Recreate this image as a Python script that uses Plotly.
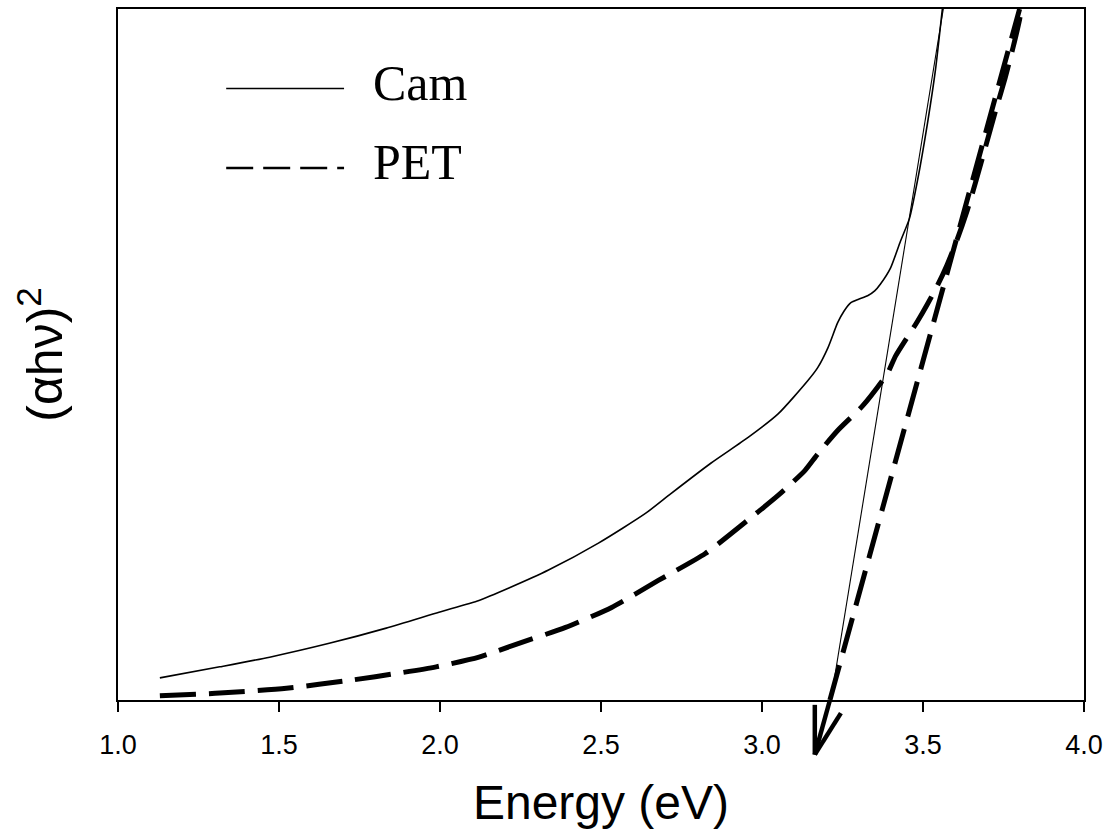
import plotly.graph_objects as go

# ---- data ----
cam_energy = [1.130, 1.316, 1.471, 1.656, 1.833, 1.997, 2.121, 2.214, 2.337, 2.492,
              2.638, 2.718, 2.842, 2.957, 3.050, 3.142, 3.173, 3.205, 3.235, 3.255,
              3.276, 3.300, 3.328, 3.350, 3.368, 3.399, 3.430, 3.458, 3.483, 3.514,
              3.539, 3.560, 3.567]
cam_signal = [0.032, 0.048, 0.062, 0.082, 0.104, 0.127, 0.144, 0.162, 0.188, 0.227,
              0.270, 0.299, 0.343, 0.380, 0.414, 0.462, 0.481, 0.510, 0.546, 0.563,
              0.575, 0.580, 0.585, 0.592, 0.602, 0.625, 0.664, 0.697, 0.752, 0.835,
              0.913, 0.999, 1.025]

pet_energy = [1.130, 1.316, 1.523, 1.728, 1.873, 1.988, 2.121, 2.245, 2.390, 2.533,
              2.678, 2.824, 2.966, 3.050, 3.133, 3.173, 3.235, 3.313, 3.390, 3.415,
              3.483, 3.514, 3.545, 3.575, 3.605, 3.635, 3.665, 3.695, 3.725, 3.755,
              3.780, 3.800, 3.812]
pet_signal = [0.006, 0.010, 0.017, 0.029, 0.039, 0.048, 0.062, 0.082, 0.105, 0.134,
              0.173, 0.212, 0.264, 0.296, 0.332, 0.356, 0.390, 0.426, 0.473, 0.498,
              0.548, 0.573, 0.600, 0.630, 0.665, 0.705, 0.752, 0.802, 0.852, 0.900,
              0.945, 0.985, 1.015]

cam_tangent_energy = [3.214, 3.563]
cam_tangent_signal = [0.0, 1.0]
pet_tangent_energy = [3.211, 3.800]
pet_tangent_signal = [0.0, 1.0]

# arrow below the axis marking the PET intercept (energy, fraction of plot height)
arrow_tip = (3.164, -0.079)
arrow_tails = [(3.211, 0.0), (3.164, -0.007), (3.245, -0.019)]

x_ticks = [1.0, 1.5, 2.0, 2.5, 3.0, 3.5, 4.0]
x_tick_labels = ["1.0", "1.5", "2.0", "2.5", "3.0", "3.5", "4.0"]

legend_names = ["Cam", "PET"]

SANS = "Liberation Sans, Arial, sans-serif"
SERIF = "Times New Roman, Liberation Serif, serif"

fig = go.Figure()
fig.add_trace(go.Scatter(x=cam_energy, y=cam_signal, mode="lines", name=legend_names[0],
                         line=dict(color="black", width=1.6, shape="spline", smoothing=0.6),
                         showlegend=False))
fig.add_trace(go.Scatter(x=cam_tangent_energy, y=cam_tangent_signal, mode="lines",
                         line=dict(color="black", width=1.1), showlegend=False))
fig.add_trace(go.Scatter(x=pet_energy, y=pet_signal, mode="lines", name=legend_names[1],
                         line=dict(color="black", width=5, dash="36px,13px",
                                   shape="spline", smoothing=0.6),
                         showlegend=False))
fig.add_trace(go.Scatter(x=pet_tangent_energy, y=pet_tangent_signal, mode="lines",
                         line=dict(color="black", width=5, dash="36px,13px"), showlegend=False))

for tx, ty in arrow_tails:
    fig.add_shape(type="line", xref="x", yref="y domain",
                  x0=tx, y0=ty, x1=arrow_tip[0], y1=arrow_tip[1],
                  line=dict(color="black", width=4.5))

annotations = []
# manual legend (long line samples as in the reference)
legend_rows = [(0.885, "solid", 1.6), (0.770, "27px,10px", 2.4)]
for (ypos, dash, w), name in zip(legend_rows, legend_names):
    fig.add_shape(type="line", xref="paper", yref="paper", x0=0.112, x1=0.234,
                  y0=ypos, y1=ypos, line=dict(color="black", width=w, dash=dash))
    annotations.append(dict(x=0.262, y=ypos + 0.008, xref="paper", yref="paper", text=name,
                            showarrow=False, xanchor="left", yanchor="middle",
                            font=dict(family=SERIF, size=50, color="black")))

fig.update_layout(
    width=1110, height=837,
    margin=dict(l=118, r=23, t=7, b=137),
    paper_bgcolor="white", plot_bgcolor="white",
    showlegend=False,
    annotations=annotations,
    xaxis=dict(range=[1.0, 4.0], tickvals=x_ticks, ticktext=x_tick_labels,
               ticks="outside", ticklen=10, tickwidth=2, tickcolor="black",
               showline=True, linecolor="black", linewidth=2, mirror=True,
               showgrid=False, zeroline=False, ticklabelstandoff=10,
               tickfont=dict(family=SANS, size=27, color="black"),
               title=dict(text="Energy (eV)", standoff=26,
                          font=dict(family=SANS, size=48, color="black"))),
    yaxis=dict(range=[0.0, 1.0], showticklabels=False, ticks="",
               showline=True, linecolor="black", linewidth=2, mirror=True,
               showgrid=False, zeroline=False,
               title=dict(text="(αhν)<sup>2</sup>", standoff=38,
                          font=dict(family=SANS, size=50, color="black"))),
)

fig.write_html("out.html")
